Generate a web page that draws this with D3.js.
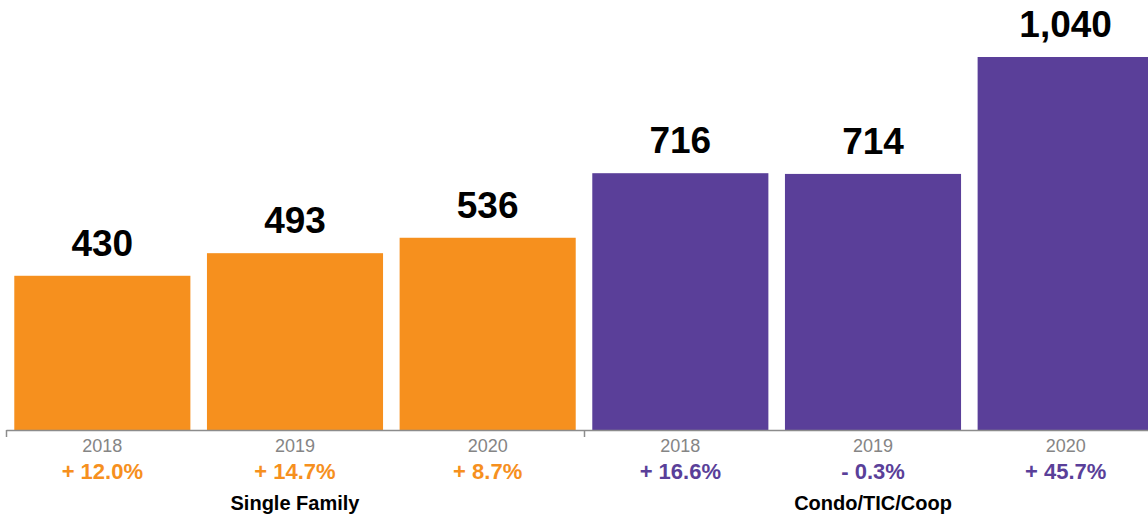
<!DOCTYPE html>
<html>
<head>
<meta charset="utf-8">
<script src="https://cdn.jsdelivr.net/npm/d3@7"></script>
<style>
  html, body { margin: 0; padding: 0; background: #fff; }
  svg { display: block; font-family: "Liberation Sans", Arial, Helvetica, sans-serif; }
</style>
</head>
<body>
<div id="container"></div>
<script>
// data
var groups = ["Single Family", "Condo/TIC/Coop"];
var years = ["2018", "2019", "2020"];
var singleFamily = [430, 493, 536];
var condo = [716, 714, 1040];
var singleFamilyChange = ["+ 12.0%", "+ 14.7%", "+ 8.7%"];
var condoChange = ["+ 16.6%", "- 0.3%", "+ 45.7%"];
var colors = ["#f6901e", "#5a3f99"];

var width = 1148, height = 518;

// flatten into one row per bar
var rows = [];
[singleFamily, condo].forEach(function (vals, g) {
  vals.forEach(function (v, i) {
    rows.push({
      key: groups[g] + " " + years[i],
      group: g,
      year: years[i],
      value: v,
      change: (g === 0 ? singleFamilyChange : condoChange)[i]
    });
  });
});

var x0 = 6, x1 = 1162, baseY = 430;

var x = d3.scaleBand()
  .domain(rows.map(function (d) { return d.key; }))
  .range([x0, x1])
  .paddingInner(0.086)
  .paddingOuter(0.043);

var y = d3.scaleLinear()
  .domain([0, d3.max(rows, function (d) { return d.value; })])
  .range([baseY, 57]);

// index scale used for the axis line and the group boundary ticks
var xi = d3.scaleLinear().domain([0, rows.length]).range([x0, x1]);

var svg = d3.select("#container")
  .append("svg")
  .attr("width", width)
  .attr("height", height);

// bars
svg.selectAll("rect.bar")
  .data(rows)
  .enter().append("rect")
  .attr("class", "bar")
  .attr("x", function (d) { return x(d.key); })
  .attr("y", function (d) { return y(d.value); })
  .attr("width", x.bandwidth())
  .attr("height", function (d) { return baseY - y(d.value); })
  .attr("fill", function (d) { return colors[d.group]; });

// axis
var axis = svg.append("g")
  .attr("transform", "translate(0," + baseY + ")")
  .call(d3.axisBottom(xi)
    .tickValues([0, 3, 6])
    .tickSize(7)
    .tickSizeOuter(0)
    .tickFormat(""));
axis.selectAll("path, line").attr("stroke", "#8c8c8c").attr("stroke-width", 1.5);

// value labels
svg.selectAll("text.value")
  .data(rows)
  .enter().append("text")
  .attr("class", "value")
  .attr("x", function (d) { return x(d.key) + x.bandwidth() / 2; })
  .attr("y", function (d) { return y(d.value) - 20; })
  .attr("text-anchor", "middle")
  .attr("font-size", 37)
  .attr("font-weight", "bold")
  .attr("fill", "#000")
  .text(function (d) { return d3.format(",")(d.value); });

// year labels
svg.selectAll("text.year")
  .data(rows)
  .enter().append("text")
  .attr("class", "year")
  .attr("x", function (d) { return x(d.key) + x.bandwidth() / 2; })
  .attr("y", 452)
  .attr("text-anchor", "middle")
  .attr("font-size", 18)
  .attr("fill", "#858585")
  .text(function (d) { return d.year; });

// change labels
svg.selectAll("text.change")
  .data(rows)
  .enter().append("text")
  .attr("class", "change")
  .attr("x", function (d) { return x(d.key) + x.bandwidth() / 2; })
  .attr("y", 479)
  .attr("text-anchor", "middle")
  .attr("font-size", 22)
  .attr("font-weight", "bold")
  .attr("fill", function (d) { return colors[d.group]; })
  .text(function (d) { return d.change; });

// group labels, centred on each group's span
svg.selectAll("text.group")
  .data(groups)
  .enter().append("text")
  .attr("class", "group")
  .attr("x", function (d, i) { return (xi(i * 3) + xi(i * 3 + 3)) / 2; })
  .attr("y", 510)
  .attr("text-anchor", "middle")
  .attr("font-size", 20)
  .attr("font-weight", "bold")
  .attr("fill", "#000")
  .text(function (d) { return d; });
</script>
</body>
</html>
